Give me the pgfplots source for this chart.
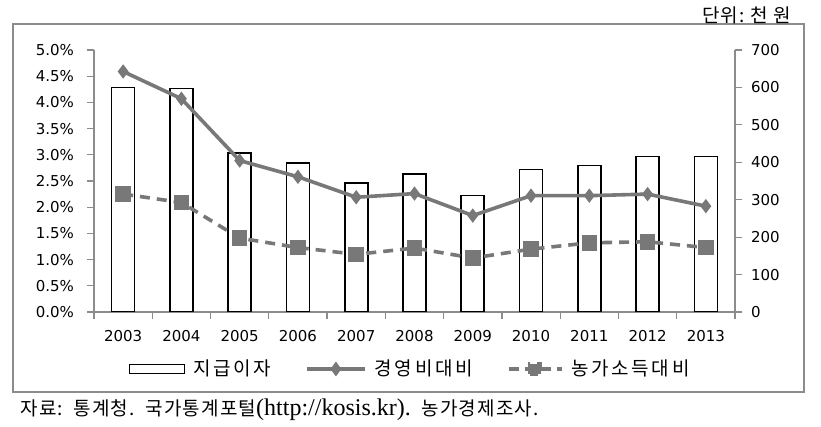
\documentclass[border=0pt]{standalone}
\usepackage{fontspec}
\setmainfont{DejaVu Sans}
\newfontfamily\kr{Noto Sans CJK KR}
\newfontfamily\krw[LetterSpace=14]{Noto Sans CJK KR}
\newfontfamily\krs[LetterSpace=6]{Noto Sans CJK KR}
\newfontfamily\serif{Liberation Serif}
\usepackage{pgfplots}
\pgfplotsset{compat=1.18}
\usepackage{pgfplotstable}
\definecolor{ln}{RGB}{120,120,120}
\definecolor{ax}{RGB}{140,140,140}

\pgfplotstableread{
x bar exp inc
0 600 4.59 2.25
1 597 4.07 2.09
2 425 2.89 1.41
3 398 2.58 1.23
4 344 2.19 1.10
5 368 2.26 1.22
6 311 1.84 1.03
7 381 2.22 1.20
8 391 2.22 1.32
9 415 2.25 1.34
10 415 2.02 1.23
}\data

\begin{document}
\begin{tikzpicture}[x=1pt,y=1pt]
\useasboundingbox (-47,-57.5) rectangle (363.5,156);
\draw[ax, line width=0.6pt] (-40.5,-40) rectangle (355,144);
\node[anchor=east, inner sep=0pt] at (348.5,148.5) {\krs\fontsize{9.5}{10}\selectfont 단위:\ 천\ 원};
\node[anchor=west, inner sep=0pt] at (-37,-49) {\fontsize{9.5}{11}\selectfont{\krs 자료:\ \ 통계청.\ \ 국가통계포털}{\serif\fontsize{12}{13}\selectfont (http://kosis.kr).}{\krs \ \ 농가경제조사.}};

\begin{axis}[
  at={(0,0)}, anchor=south west,
  scale only axis, width=320.5pt, height=131pt,
  xmin=-0.5, xmax=10.5, ymin=0, ymax=700,
  axis x line*=bottom, axis y line*=right,
  axis line style={ax, line width=0.6pt, -},
  tick style={ax, line width=0.6pt},
  tick align=outside, major tick length=3.5pt,
  xtick={-0.5,0.5,...,10.5},
  x tick label as interval,
  xticklabels={2003,2004,2005,2006,2007,2008,2009,2010,2011,2012,2013},
  ytick={0,100,...,700},
  yticklabels={0,100,200,300,400,500,600,700},
  ticklabel style={font=\fontsize{7.5}{8}\selectfont, text=black},
  xticklabel style={yshift=-2pt},
  yticklabel style={xshift=1pt},
]
\addplot[ybar, bar width=11.5pt, fill=white, draw=black, line width=0.8pt] table[x=x,y=bar] {\data};
\end{axis}

\begin{axis}[
  at={(0,0)}, anchor=south west,
  scale only axis, width=320.5pt, height=131pt,
  xmin=-0.5, xmax=10.5, ymin=0, ymax=5,
  axis x line=none, axis y line*=left,
  axis line style={ax, line width=0.6pt, -},
  tick style={ax, line width=0.6pt},
  tick align=outside, major tick length=3.5pt,
  ytick={0,0.5,...,5},
  yticklabels={0.0\%,0.5\%,1.0\%,1.5\%,2.0\%,2.5\%,3.0\%,3.5\%,4.0\%,4.5\%,5.0\%},
  ticklabel style={font=\fontsize{7.5}{8}\selectfont, text=black},
  yticklabel style={xshift=-3pt},
  legend columns=3,
  legend style={at={(0.495,-0.2176)}, anchor=center, draw=none, fill=none,
    font=\krw\fontsize{9.5}{10}\selectfont,
    /tikz/every odd column/.append style={column sep=2pt},
    /tikz/every even column/.append style={column sep=15pt},
    inner sep=0pt},
  legend cell align=left,
]
\addlegendimage{legend image code/.code={\draw[black, line width=0.6pt, fill=white] (0pt,-2.25pt) rectangle (27.5pt,2.25pt);}}
\addlegendentry{지급이자}
\addplot[ln, line width=1.8pt, mark=diamond*, mark size=3.2pt, mark options={solid, fill=ln, draw=ln, line width=0.5pt},
  legend image code/.code={\draw[ln, line width=1.8pt] (0pt,0pt) -- (29pt,0pt); \fill[ln] (14.5pt,0pt) +(0,2.2pt) -- +(1.6pt,0) -- +(0,-2.2pt) -- +(-1.6pt,0) -- cycle;}]
  table[x=x,y=exp] {\data};
\addlegendentry{경영비대비}
\addplot[ln, line width=1.8pt, dash pattern=on 5pt off 3.5pt, mark=square*, mark size=3pt, mark options={solid, fill=ln, draw=ln},
  legend image code/.code={\draw[ln, line width=1.8pt, dash pattern=on 5pt off 3pt] (0pt,0pt) -- (26.5pt,0pt); \fill[ln] (10.5pt,-2.5pt) rectangle (16pt,2.5pt);}]
  table[x=x,y=inc] {\data};
\addlegendentry{농가소득대비}
\end{axis}
\end{tikzpicture}
\end{document}
